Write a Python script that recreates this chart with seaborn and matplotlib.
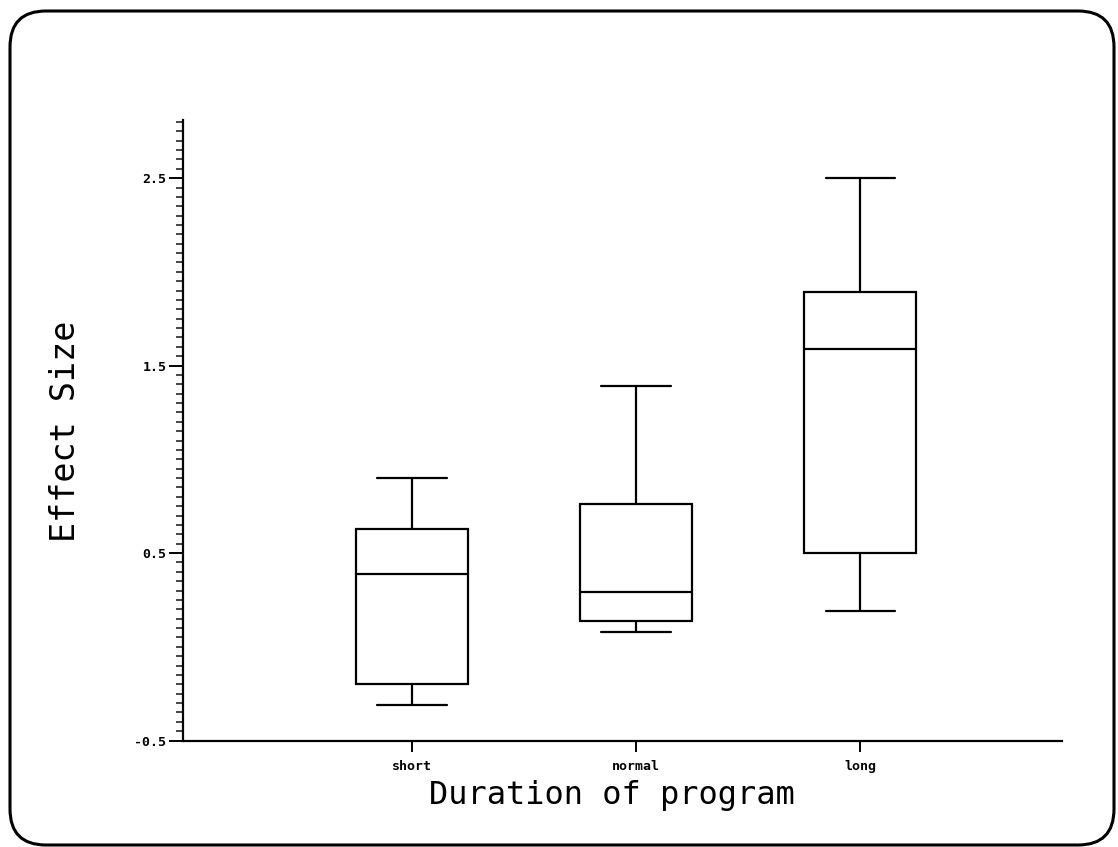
import numpy as np
import pandas as pd
import matplotlib
matplotlib.use("Agg")
import matplotlib.pyplot as plt
import seaborn as sns
from matplotlib.patches import FancyBboxPatch
from matplotlib.ticker import MultipleLocator, FixedLocator
from matplotlib.transforms import IdentityTransform

# five-number summaries (min, Q1, median, Q3, max)
durations = ['short', 'normal', 'long']
short_vals = [-0.31, -0.20, 0.39, 0.63, 0.90]
normal_vals = [0.08, 0.14, 0.29, 0.76, 1.39]
long_vals = [0.19, 0.50, 1.59, 1.89, 2.50]
y_ticks = [-0.5, 0.5, 1.5, 2.5]

df = pd.DataFrame({
    'duration': np.repeat(durations, 5),
    'effect': short_vals + normal_vals + long_vals,
})

sns.set_style('white')
plt.rcParams['font.family'] = ['DejaVu Sans Mono', 'DejaVu Sans']
plt.rcParams['text.color'] = 'black'

fig = plt.figure(figsize=(11.18, 8.47), dpi=100)
ax = fig.add_axes([0.1637, 0.1257, 0.7862, 0.7326])

sns.boxplot(data=df, x='duration', y='effect', order=durations,
            color='white', linecolor='black', linewidth=1.6,
            width=0.5, whis=(0, 100), saturation=1,
            capwidths=0.31, ax=ax)

ax.set_xlim(-1.022, 2.90)
ax.set_ylim(-0.5, 2.81)

# axes style
for side in ['top', 'right']:
    ax.spines[side].set_visible(False)
for side in ['left', 'bottom']:
    ax.spines[side].set_linewidth(1.6)
    ax.spines[side].set_color('black')

ax.yaxis.set_major_locator(FixedLocator(y_ticks))
ax.yaxis.set_minor_locator(MultipleLocator(0.05))
ax.set_yticklabels(['-0.5', '0.5', '1.5', '2.5'])
ax.tick_params(axis='y', which='major', direction='out', length=10, width=1.4,
               left=True, pad=2, labelsize=9.5, colors='black')
ax.tick_params(axis='y', which='minor', direction='out', length=5, width=1.2,
               left=True)
ax.tick_params(axis='x', which='major', direction='out', length=8, width=1.4,
               bottom=True, pad=6, labelsize=9.5, colors='black')
for lab in ax.get_xticklabels() + ax.get_yticklabels():
    lab.set_fontweight('bold')

ax.set_xlabel('')
ax.set_ylabel('')
fig.text(612 / 1118, 1 - 804 / 847, 'Duration of program', fontsize=23,
         ha='center', va='baseline', color='black')
fig.text(75 / 1118, 1 - 431 / 847, 'Effect Size', fontsize=24,
         rotation=90, rotation_mode='anchor', ha='center', va='baseline',
         color='black')

# rounded frame around the whole picture
frame = FancyBboxPatch((10, 2), 1104, 834,
                       boxstyle='round,pad=0,rounding_size=36',
                       transform=IdentityTransform(),
                       facecolor='none', edgecolor='black', linewidth=2.2,
                       clip_on=False)
fig.add_artist(frame)

fig.savefig('out.png', dpi=100)
